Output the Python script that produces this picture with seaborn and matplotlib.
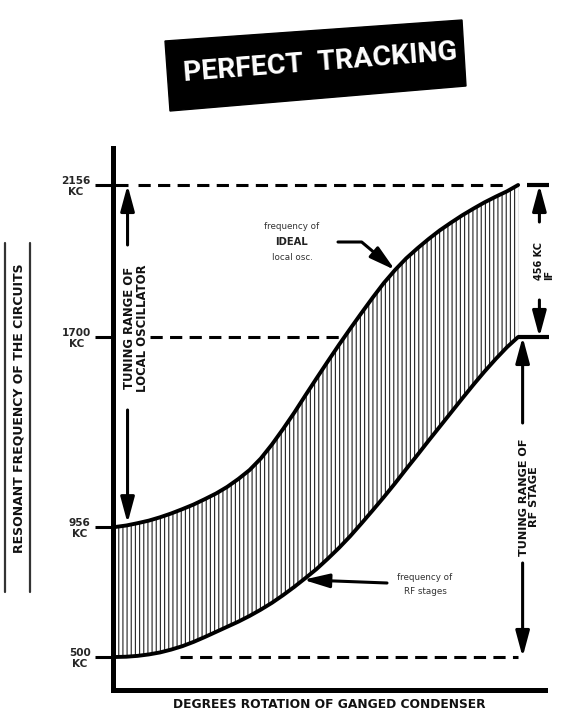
import numpy as np
import pandas as pd
import matplotlib
matplotlib.use("Agg")
import matplotlib.pyplot as plt
import seaborn as sns
from matplotlib.lines import Line2D
from matplotlib.patches import Polygon

# ---- data -------------------------------------------------------------
# condenser rotation (degrees)
DEG = [0, 5, 10, 15, 20, 25, 30, 35, 40, 45, 50, 55, 60, 65, 70, 75,
       80, 85, 90, 95, 100, 105, 110, 115, 120, 125, 130, 135, 140, 145,
       150, 155, 160, 165, 170, 175, 180]
# ideal local oscillator frequency (kc)
OSC_KC = [956, 962, 971, 981, 994, 1009, 1026, 1044, 1065, 1087, 1113,
          1144, 1179, 1224, 1279, 1340, 1404, 1472, 1539, 1605, 1670,
          1725, 1772, 1818, 1862, 1901, 1936, 1966, 1994, 2020, 2043,
          2065, 2085, 2104, 2121, 2137, 2156]
# RF stage frequency (kc)
RF_KC = [500, 501, 504, 509, 516, 526, 538, 553, 570, 588, 606, 624, 644,
         666, 690, 717, 746, 777, 809, 845, 883, 924, 970, 1021, 1073,
         1127, 1183, 1238, 1294, 1349, 1404, 1459, 1513, 1565, 1614,
         1660, 1700]
TICK_KC = [500, 956, 1700, 2156]
TICK_LABELS = ["500\nKC", "956\nKC", "1700\nKC", "2156\nKC"]
IF_KC = 456

# schematic (non-linear) frequency axis
SCALE_KC = [384, 500, 956, 1700, 2156, 2267]
SCALE_POS = [-33, 0, 130, 320, 472, 509]


def fwd(v):
    return np.interp(v, SCALE_KC, SCALE_POS)


def inv(p):
    return np.interp(p, SCALE_POS, SCALE_KC)


W, H = 566, 716

sns.set_theme(style="white")
plt.rcParams["font.family"] = ["DejaVu Sans"]
plt.rcParams["hatch.linewidth"] = 0.85
plt.rcParams["hatch.color"] = "#2e2e2e"


def at(x, y):
    """figure-fraction position from pixel position measured from top-left"""
    return (x / W, 1 - y / H)


fig = plt.figure(figsize=(W / 100, H / 100), dpi=100)
fig.patch.set_facecolor("white")
ax = fig.add_axes([113 / W, 26 / H, 432 / W, 542 / H])
ax.set_yscale("function", functions=(fwd, inv))

df = pd.DataFrame({
    "deg": DEG + DEG,
    "kc": OSC_KC + RF_KC,
    "curve": ["osc"] * len(DEG) + ["rf"] * len(DEG),
})

# shaded tracking band
ax.fill_between(DEG, RF_KC, OSC_KC, facecolor="white", edgecolor="#2e2e2e",
                hatch="||||", linewidth=0, zorder=1)
sns.lineplot(data=df, x="deg", y="kc", hue="curve",
             palette={"osc": "black", "rf": "black"}, legend=False,
             linewidth=2.8, ax=ax, zorder=3)

ax.set_xlim(-1, 192)
ax.set_ylim(384, 2267)
ax.set_xticks([])
ax.set_yticks(TICK_KC, TICK_LABELS)
ax.set_xlabel("")
ax.set_ylabel("")
for s in ["top", "right"]:
    ax.spines[s].set_visible(False)
for s in ["left", "bottom"]:
    ax.spines[s].set_color("black")
    ax.spines[s].set_linewidth(3.6)
ax.tick_params(axis="y", direction="out", length=13, width=2.2,
               color="black", pad=3, labelsize=7.6, left=True)
for t in ax.get_yticklabels():
    t.set_fontweight("bold")
    t.set_multialignment("center")
    t.set_linespacing(1.1)

# reference levels
dash = dict(color="black", lw=2.2, dashes=(4, 2.4), zorder=2)
ax.plot([10, 176], [OSC_KC[-1]] * 2, **dash)
ax.plot([15.5, np.interp(RF_KC[-1], OSC_KC, DEG)], [RF_KC[-1]] * 2, **dash)
ax.plot([29, DEG[-1]], [RF_KC[0]] * 2, **dash)
ax.plot([-1, 5.5], [OSC_KC[-1]] * 2, color="black", lw=2.2, zorder=2,
        solid_capstyle="butt")
ax.plot([184, 194], [OSC_KC[-1]] * 2, color="black", lw=3, clip_on=False,
        solid_capstyle="butt")
ax.plot([DEG[-1], 194], [RF_KC[-1]] * 2, color="black", lw=3, clip_on=False,
        solid_capstyle="butt")

arrow = dict(arrowstyle="-|>,head_length=1.3,head_width=0.35", lw=2.2,
             color="black", mutation_scale=12, shrinkA=0, shrinkB=0)
coords = ("data", "figure pixels")


def range_arrow(x, y_tip, tail_px):
    ax.annotate("", xy=(x, y_tip), xytext=(x, H - tail_px),
                xycoords="data", textcoords=coords,
                arrowprops=arrow, annotation_clip=False)


# local oscillator range
range_arrow(5.5, OSC_KC[-1], 245)
range_arrow(5.5, np.interp(5.5, DEG, OSC_KC) + 8, 410)
# RF stage range
range_arrow(182, RF_KC[-1], 423)
range_arrow(182, RF_KC[0], 563)
# intermediate frequency
range_arrow(189.5, OSC_KC[-1], 222)
range_arrow(189.5, OSC_KC[-1] - IF_KC, 300)

bold = dict(fontweight="bold", color="#111111",
            rotation=90, ha="center", va="center", multialignment="center",
            linespacing=1.05)
fig.text(*at(136, 328), "TUNING RANGE OF\nLOCAL OSCILLATOR", fontsize=8.4,
         **bold)
fig.text(*at(529, 497), "TUNING RANGE OF\nRF STAGE", fontsize=8.1, **bold)
fig.text(*at(544, 261), f"{IF_KC} KC\nIF", fontweight="bold", fontsize=7,
         color="#111111", rotation=90, ha="center", va="center",
         multialignment="left", linespacing=1.0)

# curve call-outs
light = dict(fontsize=6.3, color="#333333", ha="center", va="center")
fig.text(*at(292, 227), "frequency of", **light)
fig.text(*at(292, 242), "IDEAL", fontsize=7.2, fontweight="bold",
         color="#222222", ha="center", va="center")
fig.text(*at(292, 257), "local osc.", **light)
x_ideal = 125
ax.annotate("", xy=(x_ideal, np.interp(x_ideal, DEG, OSC_KC)),
            xytext=(338, H - 242), xycoords="data", textcoords="figure pixels",
            arrowprops=dict(arrowstyle="-|>,head_length=1.3,head_width=0.35",
                            lw=2.2, color="black", mutation_scale=12,
                            shrinkA=0, shrinkB=0,
                            connectionstyle="angle,angleA=0,angleB=140,rad=0"))

fig.text(*at(425, 577), "frequency of", **light)
fig.text(*at(425, 592), "RF stages", **light)
x_rf = 84
ax.annotate("", xy=(x_rf, np.interp(x_rf, DEG, RF_KC)),
            xytext=(387, H - 583), xycoords="data",
            textcoords="figure pixels", arrowprops=arrow)

# axis titles
fig.text(*at(329, 705), "DEGREES ROTATION OF GANGED CONDENSER",
         fontsize=8.8, fontweight="bold", color="#111111",
         ha="center", va="center")
fig.text(*at(19, 408), "RESONANT FREQUENCY OF THE CIRCUITS",
         fontsize=9, fontweight="bold", color="#111111", rotation=90,
         ha="center", va="center")
for xb in (5, 30):
    fig.add_artist(Line2D([xb / W, xb / W], [1 - 243 / H, 1 - 592 / H],
                          transform=fig.transFigure, color="#333333", lw=1.6))

# title plate
box = [at(165, 41), at(462, 20), at(466, 86), at(170, 111)]
fig.add_artist(Polygon(box, closed=True, transform=fig.transFigure,
                       facecolor="black", edgecolor="black"))
fig.text(*at(320, 63), "PERFECT  TRACKING", fontsize=20.5, fontweight="bold",
         color="white", rotation=4.5, ha="center", va="center",
         rotation_mode="anchor", family=["Roboto", "DejaVu Sans"])

fig.savefig("out.png", dpi=100)
